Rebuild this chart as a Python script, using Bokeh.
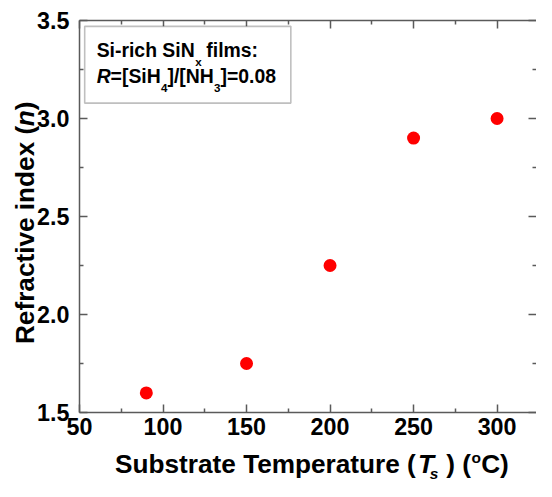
from math import pi
from bokeh.plotting import figure
from bokeh.models import Label, BoxAnnotation, LinearAxis, FixedTicker, PrintfTickFormatter, Range1d
from bokeh.embed import file_html
from bokeh.resources import INLINE

# ---- data ----
temperature = [90, 150, 200, 250, 300]          # Ts (deg C)
refractive_index = [1.60, 1.75, 2.25, 2.90, 3.00]
x_major_ticks = [50, 100, 150, 200, 250, 300]
x_minor_ticks = [75, 125, 175, 225, 275]
y_major_ticks = [1.5, 2.0, 2.5, 3.0, 3.5]
y_minor_ticks = [1.75, 2.25, 2.75, 3.25]

FONT = "Liberation Sans"
AX = "#5a5a5a"

W, H = 536, 481
SX, SY = W / 552, H / 497      # reference pixels -> canvas pixels
FS = 0.97                      # font scale
BASE_SHIFT = 0.33              # correction of the label anchor (em)
X0, X1 = 50, 323.6             # visible axis extent (data)
Y0, Y1 = 1.5, 3.5
FL, FR, FT, FB = 79, 536, 20, 412   # axis box edges in canvas px


def dx(cx):
    return X0 + (cx - FL) * (X1 - X0) / (FR - FL)


def dy(cy):
    return Y0 + (FB - cy) * (Y1 - Y0) / (FB - FT)


p = figure(width=W, height=H, output_backend="svg", toolbar_location=None,
           x_range=Range1d(dx(0), dx(W)), y_range=Range1d(dy(H), dy(0)),
           min_border=0, x_axis_location=None, y_axis_location=None)
p.grid.visible = False
p.outline_line_color = None
p.background_fill_color = "white"
p.border_fill_color = "white"


def make_axis(side, ticks, minor, loc, bounds, show_labels=True, show_line=True):
    ax = LinearAxis(fixed_location=loc, bounds=bounds)
    ax.ticker = FixedTicker(ticks=ticks, minor_ticks=minor)
    ax.axis_line_color = AX if show_line else None
    ax.axis_line_width = 1.5
    ax.major_tick_line_color = AX
    ax.major_tick_line_width = 1.5
    ax.minor_tick_line_color = AX
    ax.minor_tick_line_width = 1.5
    ax.major_tick_in = 8
    ax.major_tick_out = 0
    ax.minor_tick_in = 4
    ax.minor_tick_out = 0
    if show_labels:
        ax.major_label_text_font = FONT
        ax.major_label_text_font_style = "bold"
        ax.major_label_text_font_size = f"{24 * FS:.1f}px"
        ax.major_label_text_color = "black"
    else:
        ax.major_label_text_font_size = "1px"
        ax.major_label_text_color = None
        ax.major_label_standoff = 0
    p.add_layout(ax, side)
    return ax


bottom = make_axis("below", x_major_ticks, x_minor_ticks, Y0, (X0, X1))
bottom.major_label_standoff = 5
left = make_axis("left", y_major_ticks, y_minor_ticks, X0, (Y0, Y1))
left.major_label_standoff = 10
left.formatter = PrintfTickFormatter(format="%.1f")
make_axis("above", x_major_ticks, x_minor_ticks, Y1, (X0, X1), show_labels=False)
make_axis("right", y_major_ticks, y_minor_ticks, X1, (Y0, Y1), show_labels=False, show_line=False)

p.scatter(x=temperature, y=refractive_index, size=13, marker="circle",
          fill_color="#ff0000", line_color=None)

# legend box (reference px -> canvas px -> data)
p.add_layout(BoxAnnotation(left=dx(86.7 * SX), right=dx(299 * SX),
                           top=dy(26.7 * SY), bottom=dy(106 * SY),
                           fill_color="white", fill_alpha=1.0,
                           line_color="#2a2a2a", line_width=1.6))


def lab(rx, ry, text, size, italic=False, vertical=False):
    fs = size * FS
    cx, cy = rx * SX, ry * SY
    if vertical:
        cx -= BASE_SHIFT * fs
    else:
        cy -= BASE_SHIFT * fs
    p.add_layout(Label(x=dx(cx), y=dy(cy), text=text,
                       angle=pi / 2 if vertical else 0.0,
                       text_font=FONT, text_font_size=f"{fs:.1f}px",
                       text_font_style="bold italic" if italic else "bold",
                       text_color="black", text_align="left",
                       text_baseline="alphabetic"))


# legend text
lab(99, 58, "Si-rich SiN", 20)
lab(200.5, 67.5, "x", 12)
lab(212, 58, "films:", 20)
lab(99, 85, "R", 20, italic=True)
lab(113.4, 85, "=[SiH", 20)
lab(165.3, 94, "4", 12)
lab(172, 85, "]/[NH", 20)
lab(219.8, 94, "3", 12)
lab(226.5, 85, "]=0.08", 20)

# x axis title
lab(118, 488, "Substrate Temperature (", 27)
lab(430, 488, "T", 27, italic=True)
lab(442, 494, "s", 16, italic=True)
lab(459, 488, ") (", 27)
lab(485, 477, "o", 16)
lab(495, 488, "C)", 27)

# y axis title (rotated)
lab(34, 355, "Refractive index (", 27, vertical=True)
lab(34, 130, "n", 27, italic=True, vertical=True)
lab(34, 113.5, ")", 27, vertical=True)

open("out.html", "w").write(file_html(p, INLINE))
